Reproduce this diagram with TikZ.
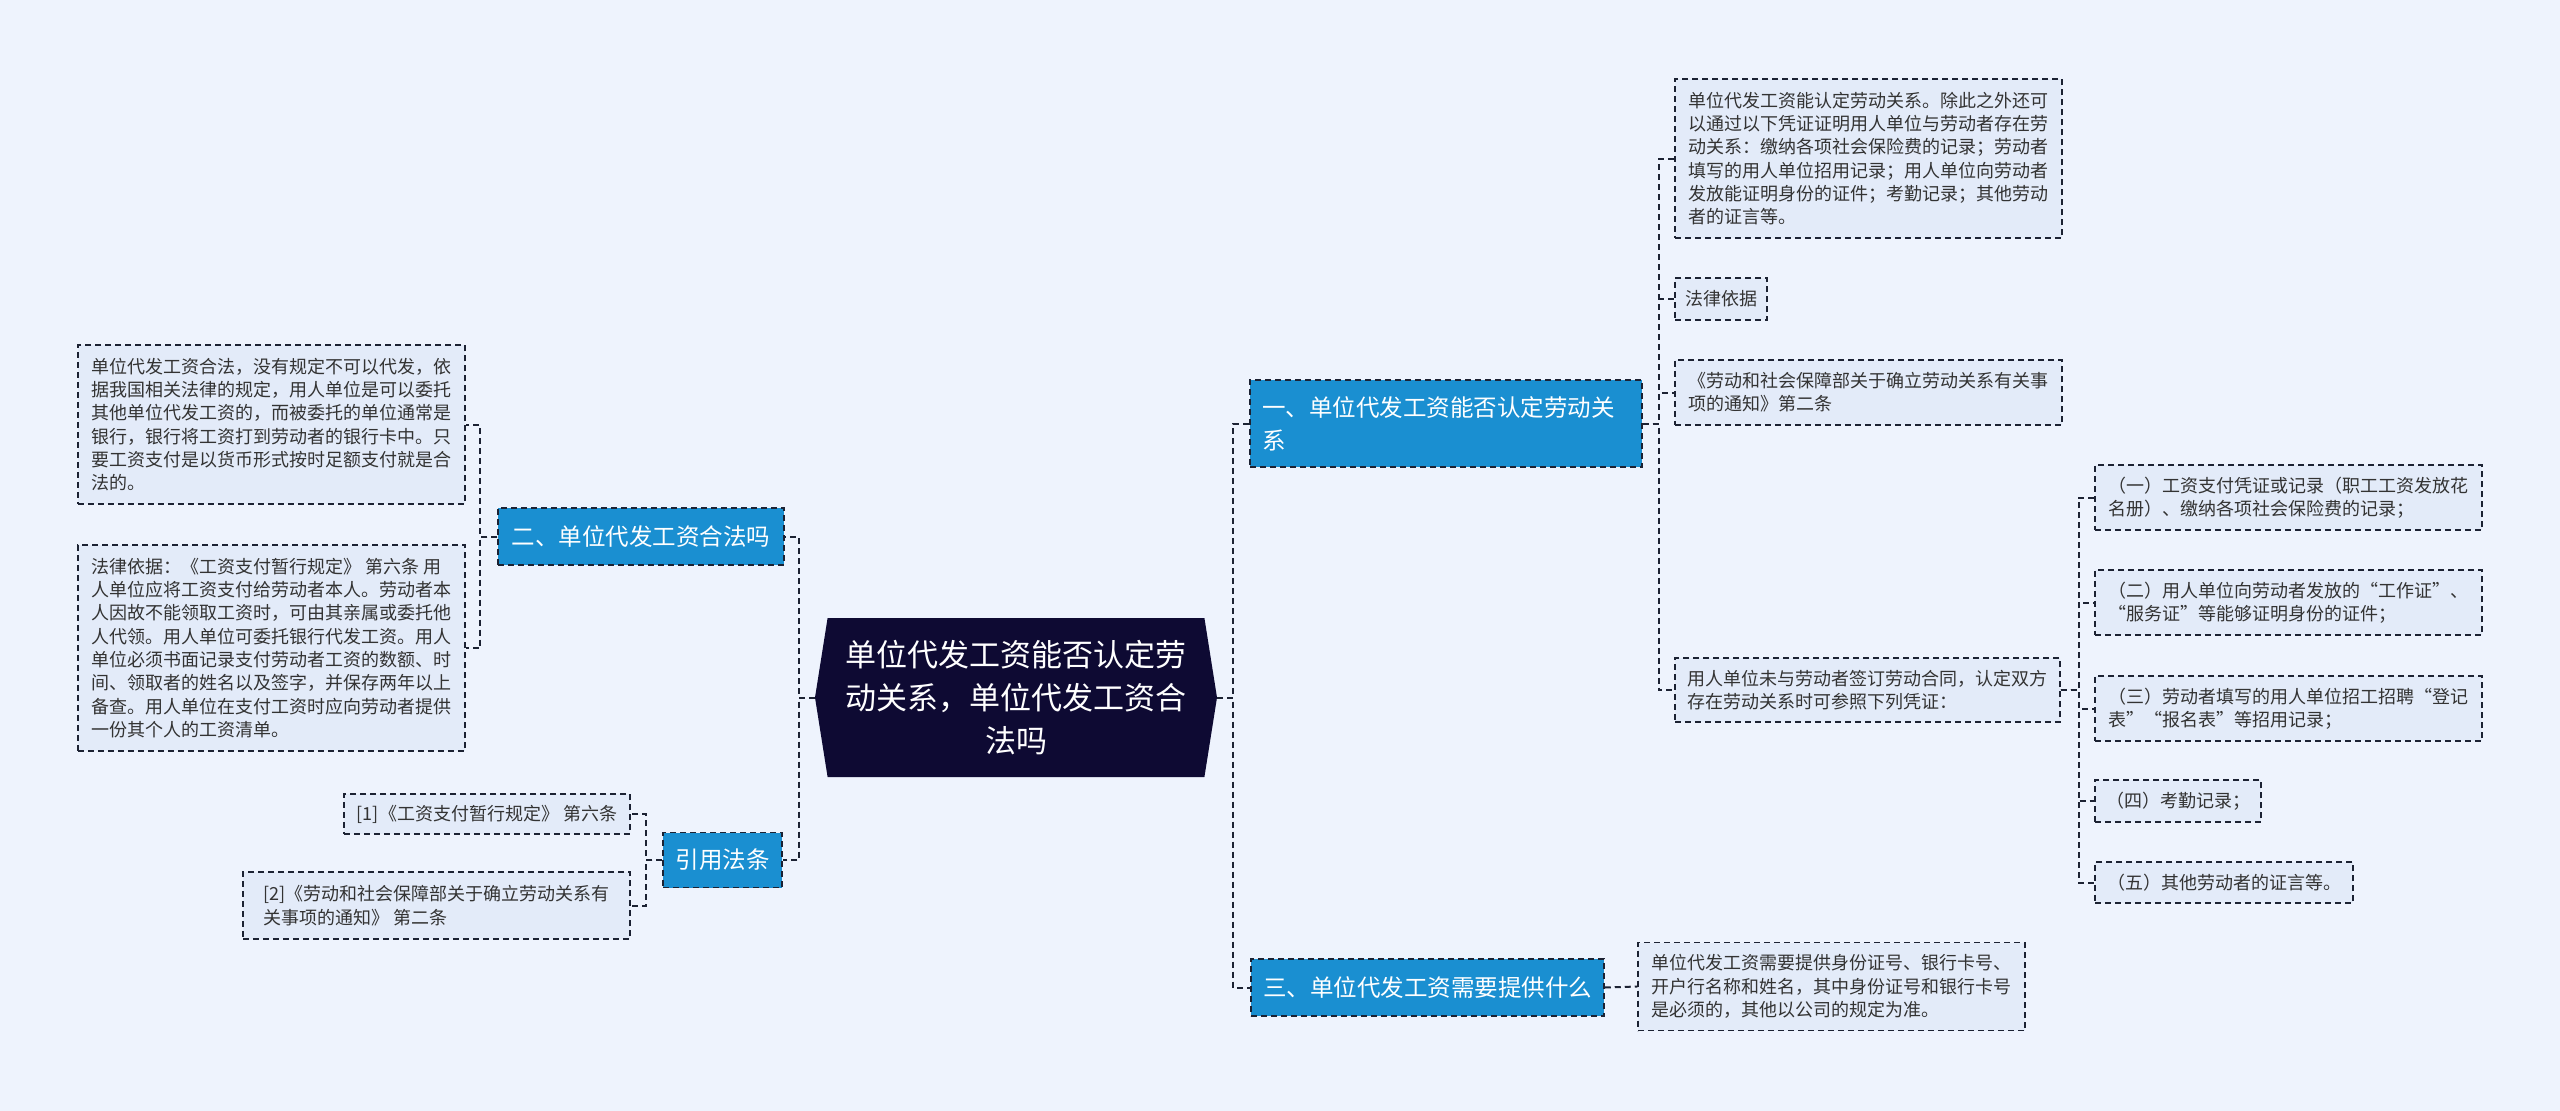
\documentclass[tikz,border=0pt]{standalone}
\usepackage{fontspec}
\setmainfont{Noto Sans CJK SC}
\usetikzlibrary{shapes.symbols}
\definecolor{bgcol}{HTML}{EEF3FD}
\definecolor{rootcol}{HTML}{0E0A33}
\definecolor{branchcol}{HTML}{1A8FD1}
\definecolor{leafcol}{HTML}{E3EBF9}
\definecolor{linecol}{HTML}{1C2233}
\definecolor{textcol}{HTML}{333333}
\tikzset{
  rootnode/.style={shape=signal, signal to=west and east, signal pointer angle=162,
    fill=rootcol, text=white, align=center, inner sep=0pt,
    font=\fontsize{31}{43}\selectfont},
  branch/.style={draw=linecol, fill=branchcol, text=white, align=left,
    line width=1.5pt, dash pattern=on 6pt off 4pt,
    font=\fontsize{23.5}{33}\selectfont},
  leaf/.style={draw=linecol, fill=leafcol, text=textcol, align=left,
    line width=1.3pt, dash pattern=on 6pt off 4pt,
    font=\fontsize{18}{23.3}\selectfont},
  link/.style={draw=linecol, line width=2pt, dash pattern=on 6pt off 4pt}
}
\begin{document}
\begin{tikzpicture}[x=1pt, y=-1pt]
    \fill[bgcol] (0,0) rectangle (2560,1111);
    \node[rootnode, minimum width=402pt, minimum height=159pt] (root) at (1016,697.5) {单位代发工资能否认定劳\\动关系，单位代发工资合\\法吗};

    \node[branch, text width=368pt, inner xsep=12pt, minimum height=87pt] (b1) at (1446,423.5) {一、单位代发工资能否认定劳动关\\系};
    \node[branch, minimum width=286pt, minimum height=57pt] (b2) at (641,536.5) {二、单位代发工资合法吗};
    \node[branch, minimum width=119pt, minimum height=55pt] (b3) at (722.5,860) {引用法条};
    \node[branch, minimum width=353pt, minimum height=57pt] (b4) at (1427.5,987.5) {三、单位代发工资需要提供什么};

    \node[leaf, minimum width=387pt, minimum height=159pt] (l1) at (271.5,424.5) {单位代发工资合法，没有规定不可以代发，依\\据我国相关法律的规定，用人单位是可以委托\\其他单位代发工资的，而被委托的单位通常是\\银行，银行将工资打到劳动者的银行卡中。只\\要工资支付是以货币形式按时足额支付就是合\\法的。};
    \node[leaf, minimum width=387pt, minimum height=206pt] (l2) at (271.5,648) {法律依据：《工资支付暂行规定》 第六条 用\\人单位应将工资支付给劳动者本人。劳动者本\\人因故不能领取工资时，可由其亲属或委托他\\人代领。用人单位可委托银行代发工资。用人\\单位必须书面记录支付劳动者工资的数额、时\\间、领取者的姓名以及签字，并保存两年以上\\备查。用人单位在支付工资时应向劳动者提供\\一份其个人的工资清单。};
    \node[leaf, minimum width=286pt, minimum height=40pt] (r1) at (487,814) {[1]《工资支付暂行规定》 第六条};
    \node[leaf, minimum width=387pt, minimum height=67pt] (r2) at (436.5,905.5) {[2]《劳动和社会保障部关于确立劳动关系有\\关事项的通知》 第二条};

    \node[leaf, minimum width=387pt, minimum height=159pt] (c1) at (1868.5,158.5) {单位代发工资能认定劳动关系。除此之外还可\\以通过以下凭证证明用人单位与劳动者存在劳\\动关系：缴纳各项社会保险费的记录；劳动者\\填写的用人单位招用记录；用人单位向劳动者\\发放能证明身份的证件；考勤记录；其他劳动\\者的证言等。};
    \node[leaf, minimum width=92pt, minimum height=42pt] (c2) at (1721,299) {法律依据};
    \node[leaf, minimum width=387pt, minimum height=65pt] (c3) at (1868.5,392.5) {《劳动和社会保障部关于确立劳动关系有关事\\项的通知》第二条};
    \node[leaf, minimum width=385pt, minimum height=64pt] (c4) at (1867.5,690) {用人单位未与劳动者签订劳动合同，认定双方\\存在劳动关系时可参照下列凭证：};

    \node[leaf, minimum width=387pt, minimum height=65pt] (d1) at (2288.5,497.5) {（一）工资支付凭证或记录（职工工资发放花\\名册）、缴纳各项社会保险费的记录；};
    \node[leaf, minimum width=387pt, minimum height=65pt] (d2) at (2288.5,602.5) {（二）用人单位向劳动者发放的“工作证”、\\“服务证”等能够证明身份的证件；};
    \node[leaf, minimum width=387pt, minimum height=65pt] (d3) at (2288.5,708.5) {（三）劳动者填写的用人单位招工招聘“登记\\表”“报名表”等招用记录；};
    \node[leaf, minimum width=166pt, minimum height=42pt] (d4) at (2178,801) {（四）考勤记录；};
    \node[leaf, minimum width=258pt, minimum height=41pt] (d5) at (2224,882.5) {（五）其他劳动者的证言等。};

    \node[leaf, minimum width=387pt, minimum height=88pt] (e1) at (1831.5,986.5) {单位代发工资需要提供身份证号、银行卡号、\\开户行名称和姓名，其中身份证号和银行卡号\\是必须的，其他以公司的规定为准。};

    \draw[link] (root.west) -- ++(-16,0) |- (b2.east);
    \draw[link] (root.west) -- ++(-16,0) |- (b3.east);
    \draw[link] (root.east) -- ++(16,0) |- (b1.west);
    \draw[link] (root.east) -- ++(16,0) |- (b4.west);
    \draw[link] (b2.west) -- ++(-17,0) |- (l1.east);
    \draw[link] (b2.west) -- ++(-17,0) |- (l2.east);
    \draw[link] (b3.west) -- ++(-16,0) |- (r1.east);
    \draw[link] (b3.west) -- ++(-16,0) |- (r2.east);
    \draw[link] (b1.east) -- ++(16,0) |- (c1.west);
    \draw[link] (b1.east) -- ++(16,0) |- (c2.west);
    \draw[link] (b1.east) -- ++(16,0) |- (c3.west);
    \draw[link] (b1.east) -- ++(16,0) |- (c4.west);
    \draw[link] (c4.east) -- ++(18,0) |- (d1.west);
    \draw[link] (c4.east) -- ++(18,0) |- (d2.west);
    \draw[link] (c4.east) -- ++(18,0) |- (d3.west);
    \draw[link] (c4.east) -- ++(18,0) |- (d4.west);
    \draw[link] (c4.east) -- ++(18,0) |- (d5.west);
    \draw[link] (b4.east) -- (e1.west);
\end{tikzpicture}
\end{document}
